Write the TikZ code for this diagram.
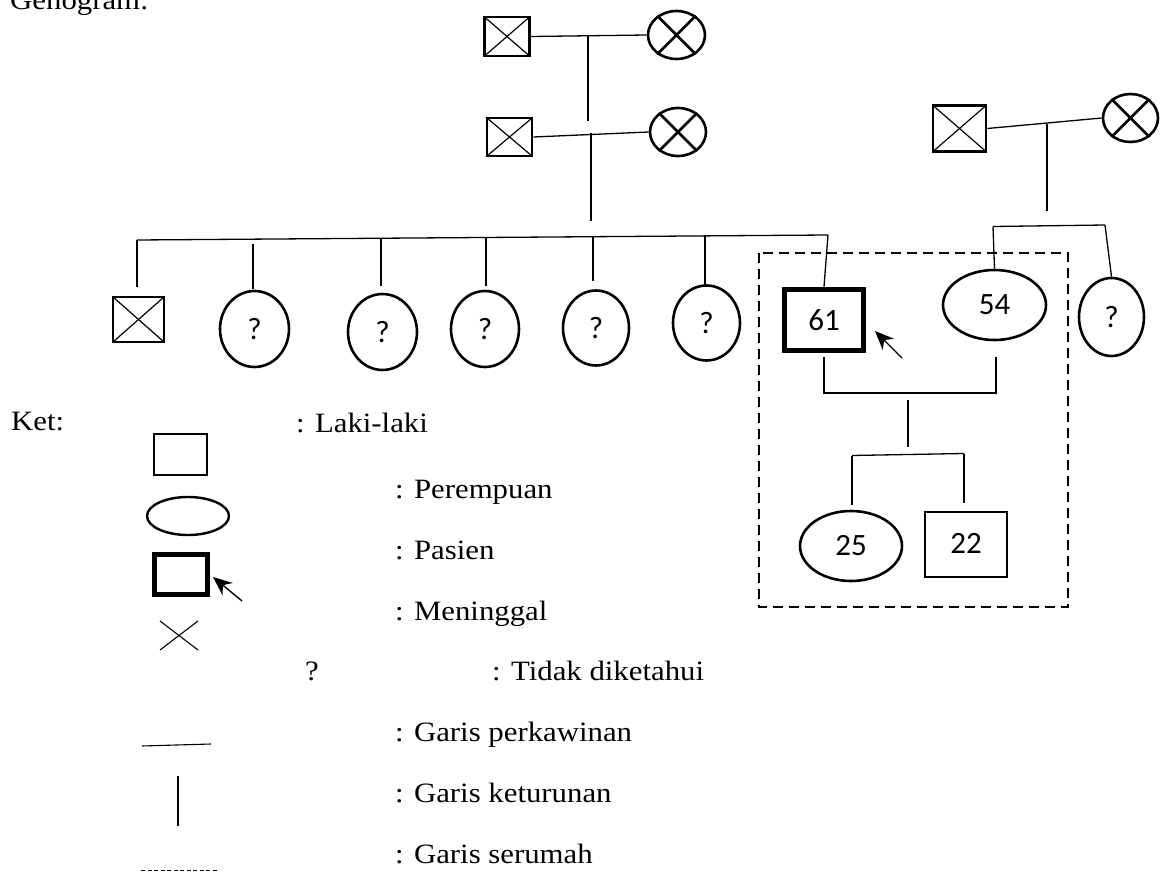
\documentclass[tikz,border=0pt]{standalone}
\usepackage{fontspec}
\setmainfont{Liberation Serif}[FakeStretch=1.1]
\newfontfamily\calfont{Carlito}
\usetikzlibrary{shapes.geometric,arrows.meta}
\tikzset{
  ln/.style={line width=1.3pt},
  sqbox/.style={draw, rectangle, line width=2.6pt, inner sep=0pt, font=\calfont\fontsize{31}{36}\selectfont},
  elbox/.style={draw, ellipse, line width=2.6pt, inner sep=0pt, font=\calfont\fontsize{31}{36}\selectfont},
  xsq/.style={sqbox, path picture={\draw[line width=1.2pt] (path picture bounding box.north west) -- (path picture bounding box.south east) (path picture bounding box.north east) -- (path picture bounding box.south west);}},
  patbox/.style={sqbox, line width=5.5pt},
  xel/.style={line width=2.8pt},
  lbl/.style={anchor=base west, inner sep=0pt, font=\fontsize{28}{34}\selectfont},
  arr/.style={line width=1.4pt, -{Stealth[length=19pt,width=16pt]}},
  house/.style={line width=2.2pt, dash pattern=on 10pt off 6pt},
}
\begin{document}
\begin{tikzpicture}[x=1pt,y=-1pt]
\useasboundingbox (0,0) rectangle (1160,872);
\clip (0,0) rectangle (1160,872);
% title
\node[lbl] (title) at (10,10) {Genogram:};
% first generation (left)
\node[xsq, minimum width=45, minimum height=39] (g1m) at (507,36.5) {};
\node[elbox, minimum width=57, minimum height=48] (g1f) at (676.5,35) {};
\draw[xel] (g1f.45) -- (g1f.225) (g1f.135) -- (g1f.315);
\draw[ln] (g1m.east) -- (g1f.west);
\coordinate (j1) at (588,35);
\coordinate (e1) at (588,121);
\draw[ln] (j1) -- (e1);
% second generation (left)
\node[xsq, minimum width=45, minimum height=38] (g2m) at (509.5,137) {};
\node[elbox, minimum width=56, minimum height=48] (g2f) at (678,132) {};
\draw[xel] (g2f.45) -- (g2f.225) (g2f.135) -- (g2f.315);
\draw[ln] (g2m.east) -- (g2f.west);
\coordinate (j2) at (591,133.5);
\coordinate (e2) at (591,221);
\draw[ln] (j2) -- (e2);
% right grandparents
\node[xsq, minimum width=53, minimum height=46] (r1m) at (959.5,128.5) {};
\node[elbox, minimum width=55, minimum height=48] (r1f) at (1130.5,118) {};
\draw[xel] (r1f.45) -- (r1f.225) (r1f.135) -- (r1f.315);
\draw[ln] (r1m.east) -- (r1f.west);
\coordinate (j3) at (1047,124.5);
\coordinate (e3) at (1047,211);
\draw[ln] (j3) -- (e3);
% children of second generation
\node[xsq, minimum width=51, minimum height=45] (s0) at (138.5,319.5) {};
\node[elbox, minimum width=69, minimum height=76] (q1) at (254.5,329) {\raisebox{-3pt}{?}};
\node[elbox, minimum width=69, minimum height=76] (q2) at (382.5,332) {\raisebox{-3pt}{?}};
\node[elbox, minimum width=68, minimum height=76] (q3) at (485,329) {\raisebox{-3pt}{?}};
\node[elbox, minimum width=66, minimum height=75] (q4) at (596,328) {\raisebox{-3pt}{?}};
\node[elbox, minimum width=67, minimum height=75] (q5) at (706.5,323) {\raisebox{-3pt}{?}};
\node[patbox, minimum width=79, minimum height=61] (p) at (824,320) {61};
\coordinate (cl0) at (137,240);
\coordinate (cl1) at (828,235);
\draw[ln] (cl0) -- (cl1);
\draw[ln] (cl0) -- (137,287);
\draw[ln] (253,244) -- (253,289);
\draw[ln] (381,238) -- (381,286);
\draw[ln] (486,237) -- (486,286);
\draw[ln] (593,236) -- (593,281);
\draw[ln] (705,235.5) -- (705,285);
\draw[ln] (cl1) -- (p.north);
% spouse and her sibling
\node[elbox, minimum width=103, minimum height=70] (w) at (994.5,305) {\raisebox{-6pt}{54}};
\node[elbox, minimum width=65, minimum height=78] (q6) at (1111.5,317) {?};
\coordinate (rl0) at (993,226.5);
\coordinate (rl1) at (1105,225);
\draw[ln] (rl0) -- (rl1);
\draw[ln] (rl0) -- (w.north);
\draw[ln] (rl1) -- (q6.north);
% patient arrow
\coordinate (pa) at (902,358);
\draw[arr] (pa) -- (875,331);
% marriage of patient
\coordinate (m0) at (824,393);
\coordinate (m1) at (996,393);
\draw[ln] (824,357) -- (m0) -- (m1) -- (996,357);
\coordinate (k0) at (908,400);
\coordinate (k1) at (908,447);
\draw[ln] (k0) -- (k1);
\node[elbox, minimum width=102, minimum height=70] (d1) at (851,546) {\raisebox{-6pt}{25}};
\node[sqbox, minimum width=82, minimum height=65] (d2) at (966,544.5) {\raisebox{3pt}{22}};
\coordinate (sl0) at (852,455.5);
\coordinate (sl1) at (964,453.5);
\draw[ln] (sl0) -- (sl1);
\draw[ln] (sl0) -- (852,505);
\draw[ln] (sl1) -- (964,503);
% household box
\draw[house] (759,253) rectangle (1068,607);
% legend
\node[lbl] (ket) at (11,430) {Ket:};
\node[sqbox, line width=2.4pt, minimum width=53, minimum height=41] (lm) at (180.5,454.5) {};
\node[lbl] (tm) at (296,432) {: Laki-laki};
\node[elbox, line width=2.4pt, minimum width=82, minimum height=38] (lf) at (188,516) {};
\node[lbl] (tf) at (395,498) {: Perempuan};
\node[patbox, minimum width=53, minimum height=40] (lp) at (181,574.5) {};
\coordinate (la) at (242,601);
\draw[arr] (la) -- (213,577);
\node[lbl] (tp) at (395,559) {: Pasien};
\draw[line width=1.1pt] (160,621) -- (198,650) (198,621) -- (160,650);
\node[lbl] (td) at (395,620) {: Meninggal};
\node[lbl] (tq) at (305,680) {?};
\node[lbl] (tu) at (492,680) {: Tidak diketahui};
\draw[line width=1.1pt] (142,746) -- (211,744);
\node[lbl] (tk) at (395,741) {: Garis perkawinan};
\draw[line width=1.1pt] (178,776) -- (178,826);
\node[lbl] (tt) at (395,802) {: Garis keturunan};
\draw[line width=1pt, dash pattern=on 4pt off 2.5pt] (141,870) -- (218,870);
\node[lbl] (ts) at (395,863) {: Garis serumah};
\end{tikzpicture}
\end{document}
